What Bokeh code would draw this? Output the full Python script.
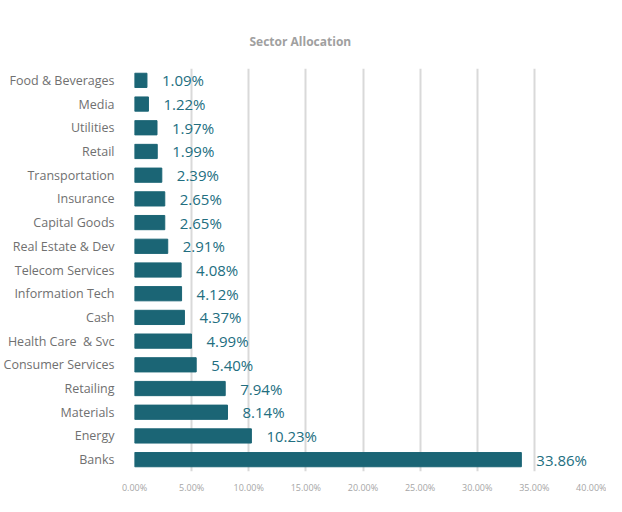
from bokeh.plotting import figure
from bokeh.models import ColumnDataSource, FactorRange, Range1d, SingleIntervalTicker, PrintfTickFormatter
from bokeh.core.properties import value
from bokeh.embed import file_html
from bokeh.resources import INLINE

sectors = ["Food & Beverages", "Media", "Utilities", "Retail", "Transportation", "Insurance",
           "Capital Goods", "Real Estate & Dev", "Telecom Services", "Information Tech", "Cash",
           "Health Care\u00a0 & Svc", "Consumer Services", "Retailing", "Materials", "Energy", "Banks"]
weights = [1.09, 1.22, 1.97, 1.99, 2.39, 2.65, 2.65, 2.91, 4.08, 4.12, 4.37, 4.99, 5.40, 7.94, 8.14, 10.23, 33.86]
labels = ["%.2f%%" % w for w in weights]
title_text = "Sector Allocation"

FONT = "Open Sans"
BAR = "#1b6575"
LBL = "#226e7f"

src = ColumnDataSource(dict(sector=sectors, w=weights, lab=labels))

p = figure(width=606, height=496, output_backend="svg", toolbar_location=None,
           y_range=FactorRange(factors=list(reversed(sectors)), range_padding=0),
           x_range=Range1d(0, 40),
           min_border_left=128, min_border_right=15, min_border_top=68, min_border_bottom=14)

p.hbar(y="sector", right="w", left=0, height=0.6, color=BAR, source=src)
p.text(x="w", y="sector", text="lab", source=src, x_offset=15, text_baseline="middle",
       text_align="left", text_font=value(FONT), text_font_size="15px", text_color=LBL)

p.title.text = title_text
p.title.text_font = FONT
p.title.text_font_size = "12px"
p.title.text_font_style = "bold"
p.title.text_color = "#a0a0a0"
p.title.align = "left"
p.title.offset = 115
p.title.standoff = 38

p.outline_line_color = None
p.ygrid.grid_line_color = None
p.xgrid.grid_line_color = "#d9d9d9"
p.xgrid.grid_line_width = 2

p.xaxis.ticker = SingleIntervalTicker(interval=5)
p.xaxis.formatter = PrintfTickFormatter(format="%.2f%%")
p.xaxis.axis_line_color = None
p.xaxis.major_tick_line_color = None
p.xaxis.minor_tick_line_color = None
p.xaxis.major_label_text_font = FONT
p.xaxis.major_label_text_font_size = "9px"
p.xaxis.major_label_text_color = "#a6a6a6"
p.xaxis.major_label_standoff = 3

p.yaxis.axis_line_color = None
p.yaxis.major_tick_line_color = None
p.yaxis.minor_tick_line_color = None
p.yaxis.major_label_text_font = FONT
p.yaxis.major_label_text_font_size = "12.5px"
p.yaxis.major_label_text_color = "#707070"
p.yaxis.major_label_standoff = 14

open("out.html", "w").write(file_html(p, INLINE))
